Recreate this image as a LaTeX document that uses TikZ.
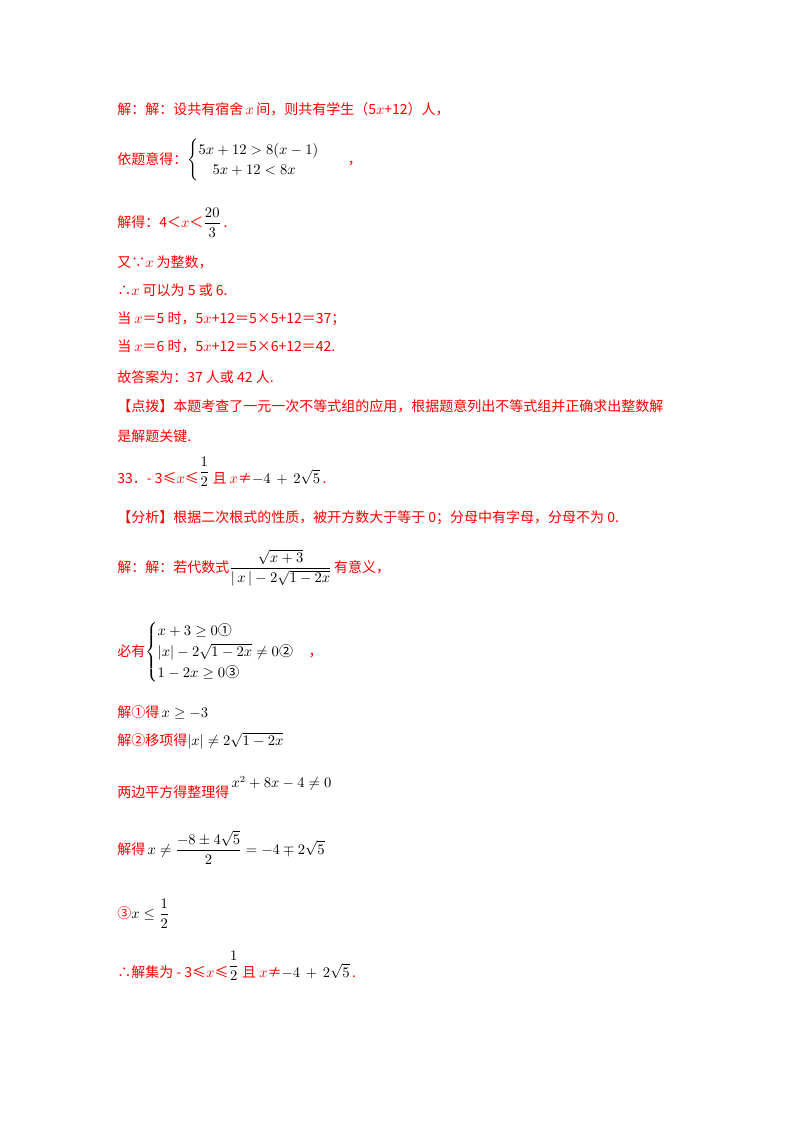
\documentclass[tikz,border=0pt]{standalone}
\usepackage{amsmath,amssymb}
\usepackage[no-math]{fontspec}
\setmainfont{Noto Sans CJK SC}
\usepackage{tikz}
\definecolor{solred}{RGB}{255,0,0}
\newcommand{\bk}[1]{\textcolor{black}{#1}}
\newcommand{\halfup}{\bk{\raisebox{0.9ex}{$\dfrac{1}{2}$}}}
\tikzset{
  line/.style={anchor=base west, inner sep=0pt, text=solred, font=\fontsize{10.5}{13}\selectfont}
}
\begin{document}
\begin{tikzpicture}[x=0.75pt,y=-0.75pt]
  \useasboundingbox[fill=white] (0,0) rectangle (800,1132);
  \node[line] (l1) at (117,114) {解：解：设共有宿舍\,$x$\,间，则共有学生（5$x$+12）人，};
  \node[line] (l2) at (117,164) {依题意得：\bk{$\begin{cases}5x+12>8(x-1)\\ \quad 5x+12<8x\end{cases}$}\quad ，};
  \node[line] (l3) at (117,227) {解得：4＜$x$＜\bk{$\dfrac{20}{3}$}\,.};
  \node[line] (l4) at (117,267) {又∵$x$ 为整数，};
  \node[line] (l5) at (117,295) {∴$x$ 可以为 5 或 6.};
  \node[line] (l6) at (117,323) {当 $x$＝5 时，5$x$+12＝5×5+12＝37；};
  \node[line] (l7) at (117,351) {当 $x$＝6 时，5$x$+12＝5×6+12＝42.};
  \node[line] (l8) at (117,382) {故答案为：37 人或 42 人.};
  \node[line] (l9) at (117,411) {【点拨】本题考查了一元一次不等式组的应用，根据题意列出不等式组并正确求出整数解};
  \node[line] (l10) at (117,441) {是解题关键.};
  \node[line] (l11) at (117,483) {33．- 3≤$x$≤\halfup\ 且 $x$≠\bk{$-4\,+\,2\sqrt{5}$}\,.};
  \node[line] (l12) at (117,522) {【分析】根据二次根式的性质，被开方数大于等于 0；分母中有字母，分母不为 0.};
  \node[line] (l13) at (117,572) {解：解：若代数式\bk{$\dfrac{\sqrt{x+3}}{|\,x\,|-2\sqrt{1-2x}}$}\,有意义，};
  \node[line] (l14) at (117,656) {必有\bk{$\begin{cases}x+3\geq 0\text{①}\\ |x|-2\sqrt{1-2x}\neq 0\text{②}\\ 1-2x\geq 0\text{③}\end{cases}$}，};
  \node[line] (l15) at (117,717) {解①得\,\bk{$x\geq -3$}};
  \node[line] (l16) at (117,745) {解②移项得\bk{$\left|x\right|\neq 2\sqrt{1-2x}$}};
  \node[line] (l17) at (117,797) {两边平方得整理得\,\bk{\raisebox{1.2ex}{$x^2+8x-4\neq 0$}}};
  \node[line] (l18) at (117,854) {解得\,\bk{$x\neq\dfrac{-8\pm4\sqrt{5}}{2}=-4\mp2\sqrt{5}$}};
  \node[line] (l19) at (117,918) {③\bk{$x\leq\dfrac{1}{2}$}};
  \node[line] (l20) at (117,977) {∴解集为 - 3≤$x$≤\halfup\ 且 $x$≠\bk{$-4\,+\,2\sqrt{5}$}\,.};
\end{tikzpicture}
\end{document}
